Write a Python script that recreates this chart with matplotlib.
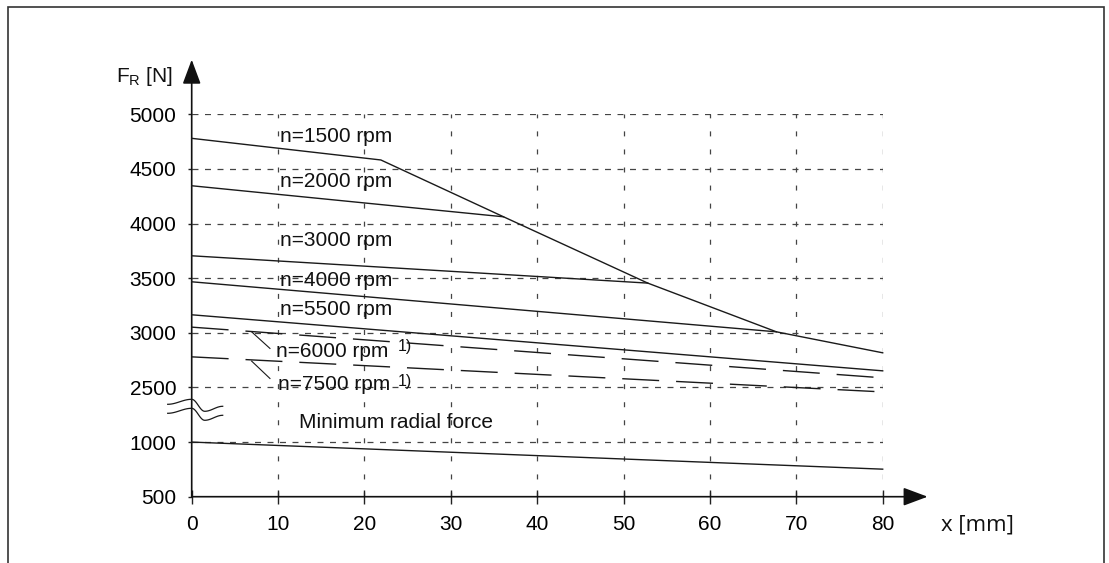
import numpy as np
import matplotlib
matplotlib.use('Agg')
import matplotlib.pyplot as plt
from matplotlib.patches import Rectangle
from matplotlib.lines import Line2D

plt.rcParams['font.family'] = ['Liberation Sans', 'DejaVu Sans']
plt.rcParams['mathtext.fontset'] = 'custom'
plt.rcParams['mathtext.rm'] = 'Liberation Sans'
plt.rcParams['lines.scale_dashes'] = False

# permissible radial force F_R [N] over force application point x [mm]
x_1500 = [0, 21.9, 36.1, 52.8, 67.7, 80]
f_1500 = [4780, 4582, 4062, 3455, 3009, 2817]
x_2000 = [0, 36.1]
f_2000 = [4346, 4062]
x_3000 = [0, 52.8]
f_3000 = [3705, 3455]
x_4000 = [0, 67.7]
f_4000 = [3467, 3009]
x_5500 = [0, 80]
f_5500 = [3165, 2652]
x_6000 = [0, 80]
f_6000 = [3052, 2588]
x_7500 = [0, 80]
f_7500 = [2780, 2377]
x_min = [0, 80]
f_min = [1000, 752]

x_ticks = [0, 10, 20, 30, 40, 50, 60, 70, 80]
y_ticks = [500, 1000, 2500, 3000, 3500, 4000, 4500, 5000]

# curve labels: text, x, y
labels = [
    ('n=1500 rpm', 10.2, 4800),
    ('n=2000 rpm', 10.2, 4385),
    ('n=3000 rpm', 10.2, 3842),
    ('n=4000 rpm', 10.2, 3482),
    ('n=5500 rpm', 10.2, 3217),
    ('n=6000 rpm', 9.76, 2829),
    ('n=7500 rpm', 9.96, 2524),
]
foot_x = 23.9
foot_y = [2873, 2550]
# leader lines from dashed curves to their labels
lead_from = [(6.94, 3009), (6.94, 2741)]
lead_to = [(9.06, 2857), (9.06, 2582)]
FS = 15


# broken y axis: 500..1000 and 2500..5000 each step equal, 1000..2500 squeezed into one step
def fwd(v):
    v = np.asarray(v, float)
    return np.where(v <= 1000, (v - 500) / 500,
                    np.where(v < 2500, 1 + (v - 1000) / 1500, 2 + (v - 2500) / 500))


def inv(p):
    p = np.asarray(p, float)
    return np.where(p <= 1, 500 + p * 500,
                    np.where(p < 2, 1000 + (p - 1) * 1500, 2500 + (p - 2) * 500))


W, H = 1109, 563
fig = plt.figure(figsize=(W / 100, H / 100), dpi=100)
ax = fig.add_axes([191.7 / W, 1 - 496.7 / H, 691.0 / W, 382.4 / H])
ax.set_yscale('function', functions=(fwd, inv))
ax.set_xlim(0, 80)
ax.set_ylim(500, 5000)
for s in ax.spines.values():
    s.set_visible(False)
ax.patch.set_visible(False)

ax.set_xticks(x_ticks)
ax.set_yticks(y_ticks)
ax.set_xticklabels([str(t) for t in x_ticks])
ax.set_yticklabels([str(t) for t in y_ticks])
ax.tick_params(axis='y', direction='out', length=3, width=1, pad=8, labelsize=FS, color='#222')
ax.tick_params(axis='x', direction='inout', length=10, width=1, pad=8.5, labelsize=FS, color='#222')
ax.yaxis.set_minor_locator(matplotlib.ticker.NullLocator())

# grid
gcol = '#444444'
for yv in y_ticks[1:]:
    ax.plot([0, 80], [yv, yv], color=gcol, lw=0.9, ls=(0, (4.3, 4.7)), zorder=1)
for xv in x_ticks[1:]:
    ax.plot([xv, xv], [500, 5000], color=gcol, lw=0.9, ls=(0, (3.6, 9.4)), zorder=1)

# axes with arrows
arrow = dict(arrowstyle='-|>,head_length=0.75,head_width=0.28', color='#111', lw=1.2,
             mutation_scale=20, shrinkA=0, shrinkB=0)
ax.annotate('', xy=(85.2, 500), xytext=(0, 500), arrowprops=arrow, annotation_clip=False)
ax.annotate('', xy=(0, 5500), xytext=(0, 500), arrowprops=arrow, annotation_clip=False)

# curves
lc = '#1a1a1a'
for xs, fs in [(x_1500, f_1500), (x_2000, f_2000), (x_3000, f_3000),
               (x_4000, f_4000), (x_5500, f_5500), (x_min, f_min)]:
    ax.plot(xs, fs, color=lc, lw=1.0, zorder=3, clip_on=False)
for xs, fs in [(x_6000, f_6000), (x_7500, f_7500)]:
    ax.plot(xs, fs, color=lc, lw=1.0, ls=(0, (26.6, 12.2)), zorder=3, clip_on=False)

for (x0, y0), (x1, y1) in zip(lead_from, lead_to):
    ax.plot([x0, x1], [y0, y1], color=lc, lw=0.8, zorder=3)

for txt, xv, yv in labels:
    ax.text(xv, yv, txt, fontsize=FS, ha='left', va='center', color='#111', zorder=4)
for yv in foot_y:
    ax.text(foot_x, yv, '1)', fontsize=11.5, ha='left', va='center', color='#111', zorder=4)
ax.text(12.46, 1550, 'Minimum radial force', fontsize=FS, ha='left', va='center', color='#111')

# axis titles
fig.text(116 / W, 1 - 77 / H, r'F$_\mathrm{R}$ [N]', fontsize=FS, ha='left', va='center', color='#111')
fig.text(941 / W, 1 - 525 / H, 'x [mm]', fontsize=16, ha='left', va='center', color='#111',
         family=['Open Sans', 'DejaVu Sans'])

# break marks on the y axis (smooth wave through key points, offsets in pixels)
fig.canvas.draw()
cx, cy = ax.transData.transform((0, 1900))
kx = [-24, 0, 13, 31]
ky = [0.5, 5.5, -6.5, -1.5]
wx, wy = [], []
for i in range(len(kx) - 1):
    t = np.linspace(0, 1, 20)
    wx.append(kx[i] + (kx[i + 1] - kx[i]) * t)
    wy.append(ky[i] + (ky[i + 1] - ky[i]) * (1 - np.cos(np.pi * t)) / 2)
wx = np.concatenate(wx)
wy = np.concatenate(wy)
for off in (4.5, -4.5):
    fig.add_artist(Line2D((cx + wx) / W, (cy + off + wy) / H, transform=fig.transFigure,
                          color=lc, lw=0.9))

# outer frame
fig.add_artist(Rectangle((8.3 / W, -0.05), (1104.3 - 8.3) / W, 1.05 - 7.3 / H,
                         transform=fig.transFigure, fill=False, ec='#333', lw=1.2))

fig.savefig('out.png', dpi=100)
